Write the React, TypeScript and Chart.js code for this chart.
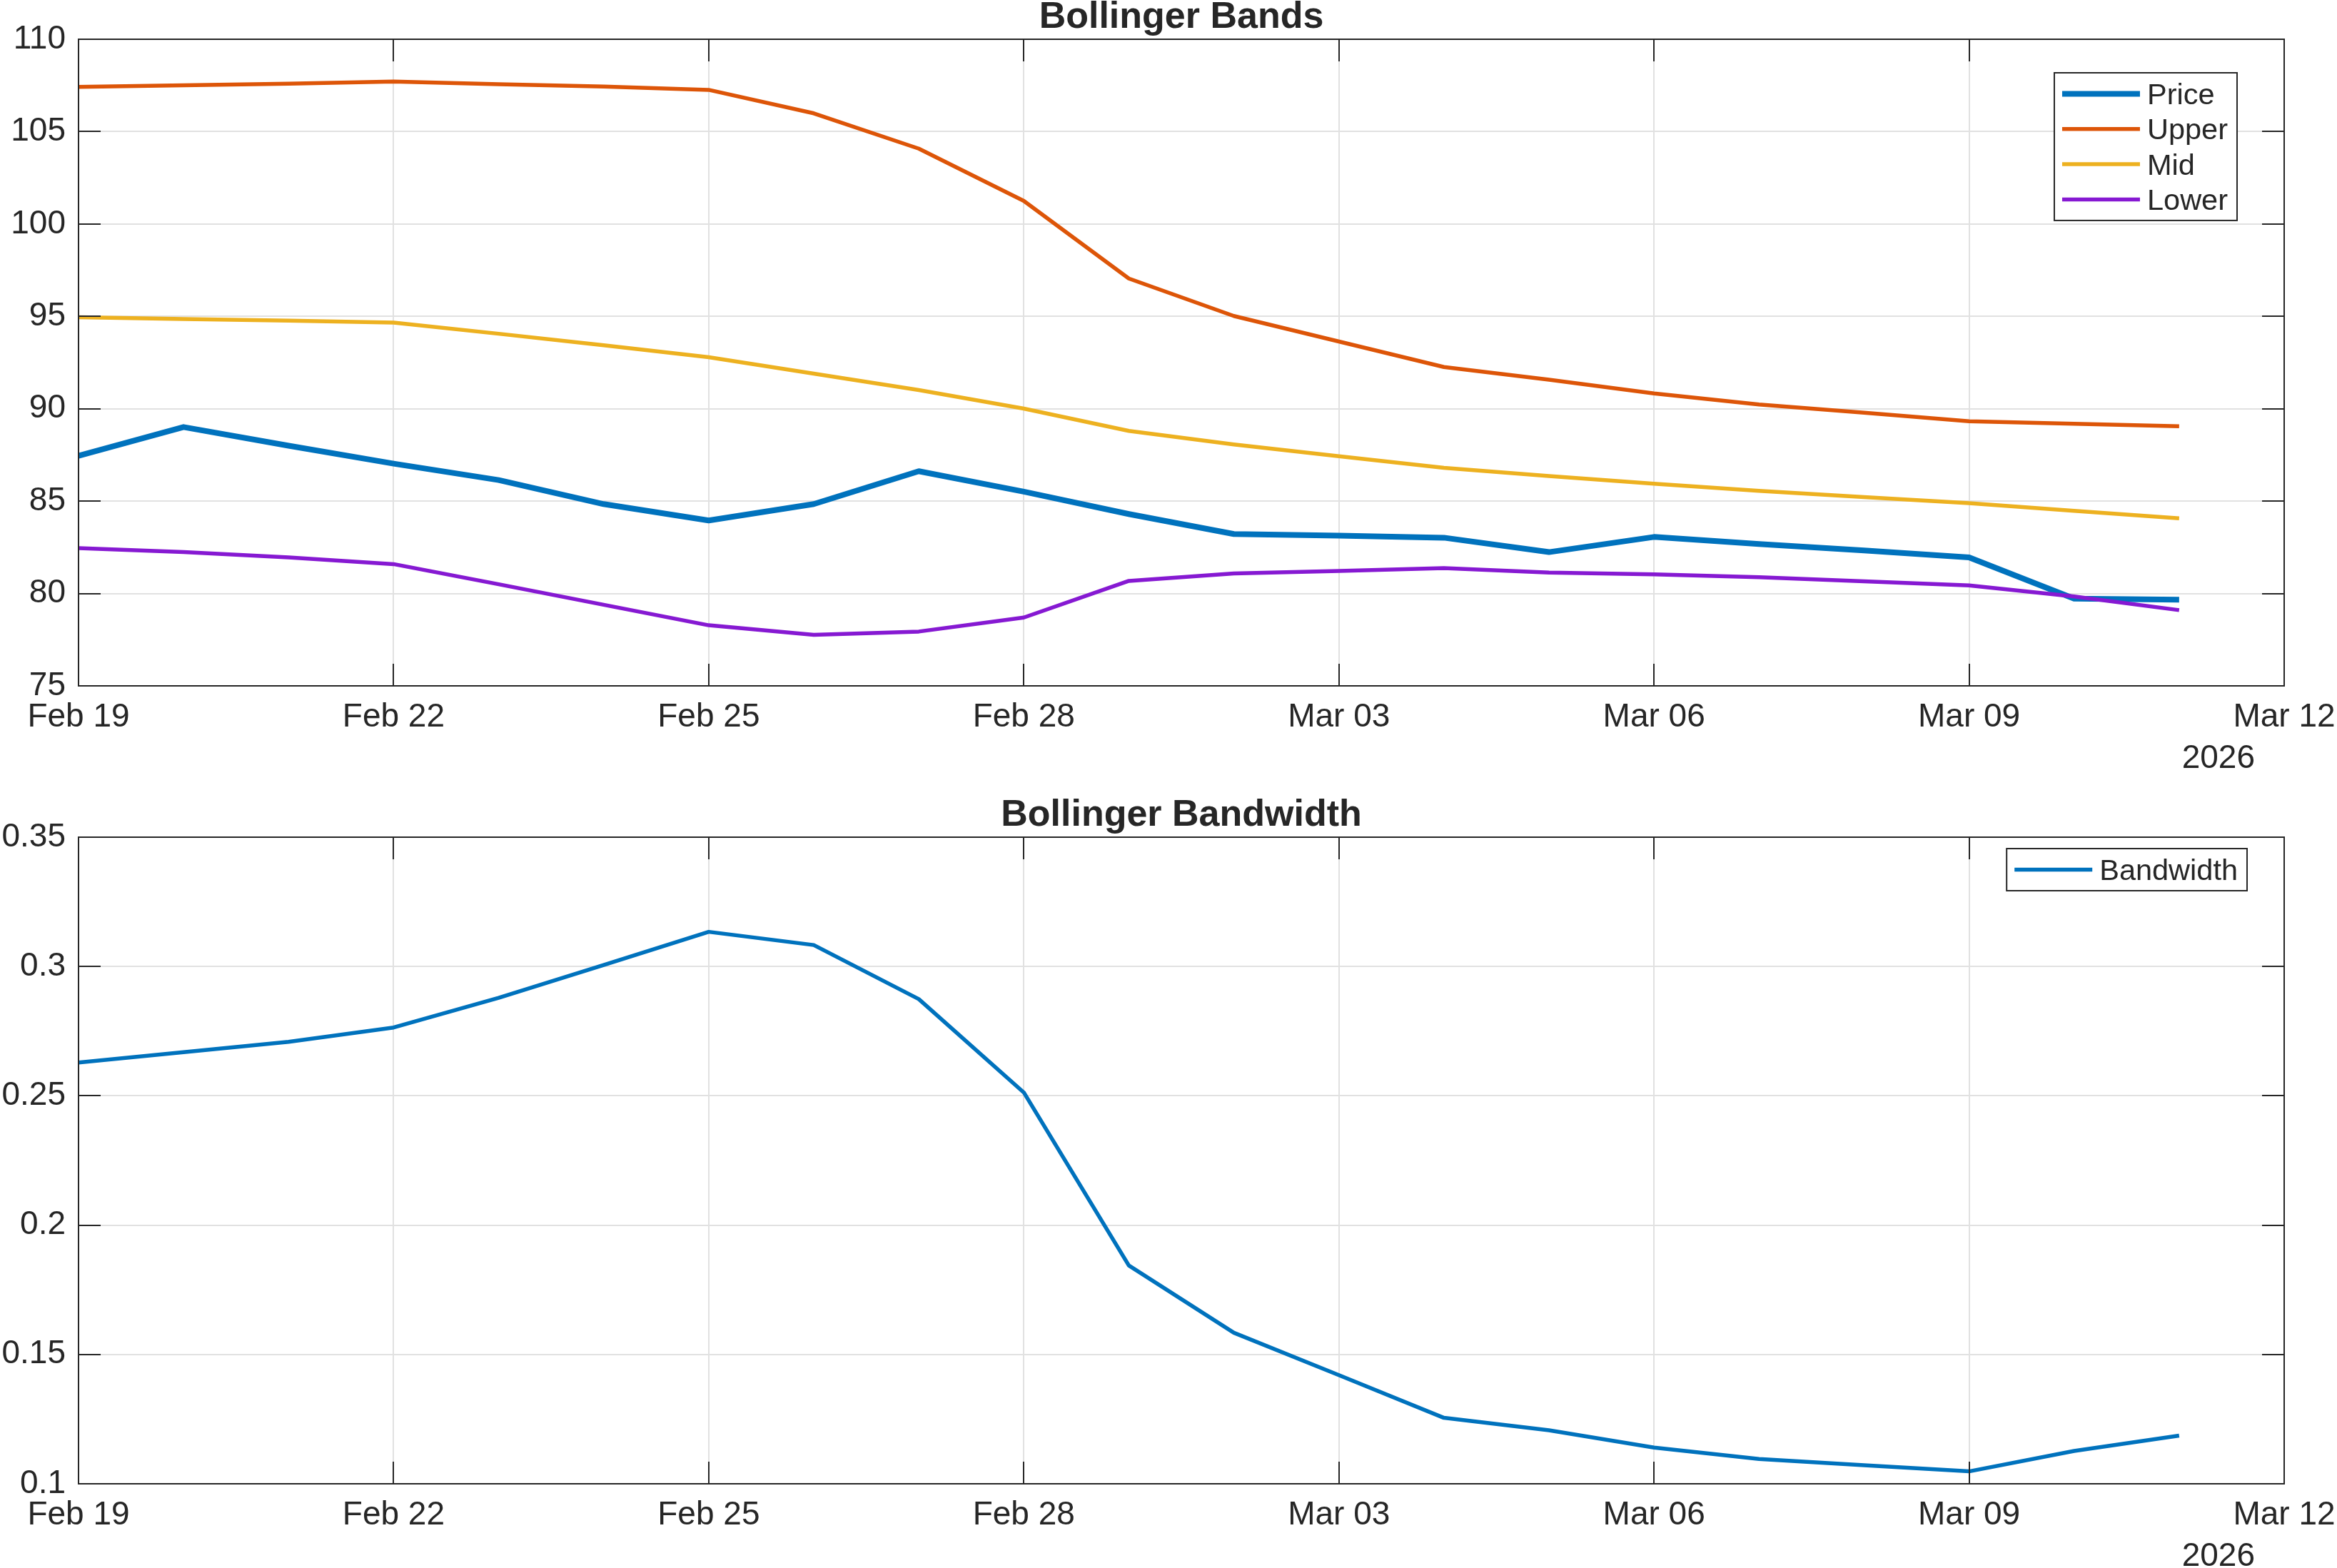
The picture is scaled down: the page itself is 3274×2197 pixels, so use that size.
import { useEffect, useRef } from 'react';
import { Chart, registerables } from 'chart.js';

Chart.register(...registerables);

// ---- data (one value per calendar day) ----
const dates = [
  '2026-02-19', '2026-02-20', '2026-02-21', '2026-02-22', '2026-02-23', '2026-02-24', '2026-02-25',
  '2026-02-26', '2026-02-27', '2026-02-28', '2026-03-01', '2026-03-02', '2026-03-03', '2026-03-04',
  '2026-03-05', '2026-03-06', '2026-03-07', '2026-03-08', '2026-03-09', '2026-03-10', '2026-03-11',
];
const price = [87.45, 89.01, 88.0, 87.03, 86.14, 84.84, 83.95, 84.84, 86.62, 85.51, 84.3,
  83.22, 83.13, 83.02, 82.24, 83.06, 82.68, 82.33, 81.95, 79.72, 79.66];
const upper = [107.42, 107.51, 107.6, 107.71, 107.57, 107.44, 107.26, 105.99, 104.08, 101.25, 97.05,
  95.02, 93.64, 92.26, 91.57, 90.83, 90.23, 89.79, 89.32, 89.19, 89.05];
const mid = [94.95, 94.86, 94.77, 94.66, 94.06, 93.44, 92.79, 91.9, 91.01, 90.01, 88.8,
  88.07, 87.43, 86.8, 86.36, 85.94, 85.56, 85.22, 84.89, 84.47, 84.07];
const lower = [82.46, 82.24, 81.95, 81.59, 80.5, 79.39, 78.28, 77.76, 77.94, 78.7, 80.68,
  81.08, 81.22, 81.37, 81.13, 81.04, 80.88, 80.66, 80.44, 79.84, 79.1];
const bandwidth = [0.2629, 0.2669, 0.2709, 0.2764, 0.2879, 0.3006, 0.3134, 0.3083, 0.2874, 0.2513, 0.1844,
  0.1584, 0.142, 0.1255, 0.1207, 0.114, 0.1096, 0.1072, 0.1048, 0.1127, 0.1186];

// ---- axis labels ----
const xTickLabels = ['Feb 19', 'Feb 22', 'Feb 25', 'Feb 28', 'Mar 03', 'Mar 06', 'Mar 09', 'Mar 12'];
const xTickStepDays = 3;
const yearLabel = '2026';
const bandsRange = [75, 110, 5];
const bandwidthRange = [0.1, 0.35, 0.05];

// ---- styling ----
const W = 3274;
const FONT = '"Liberation Sans", Arial, Helvetica, sans-serif';
const TEXT = '#262626';
const GRID = '#e1e1e1';
const TICK_SIZE = 46;
const TITLE_SIZE = 52;
const LEGEND_SIZE = 41.5;
const TICK_LEN = 31;
const AREA_LEFT = 110;
const AREA_RIGHT = 3200;
const THICK = 8;
const THIN = 5.5;

const COLORS = {
  price: '#0072BD',
  upper: '#DD5508',
  mid: '#EDB120',
  lower: '#8619D2',
  bandwidth: '#0072BD',
};

const dayIndex = (d: string) => (Date.parse(d) - Date.parse(dates[0])) / 86400000;
const xy = (vals: number[]) => vals.map((v, i) => ({ x: dayIndex(dates[i]), y: v }));
const lastDay = dayIndex(dates[0]) + (xTickLabels.length - 1) * xTickStepDays;

type LegendItem = { label: string; color: string; width: number };
type FrameOpts = {
  title: string;
  year: string;
  legend: { items: LegendItem[]; right: number; top: number };
};

// Boxed axes with inward tick marks, title, year label and an in-plot legend
const framePlugin = {
  id: 'frame',
  afterDraw(chart: any, _args: any, opts: FrameOpts) {
    const { ctx, chartArea: a, scales } = chart;
    ctx.save();
    ctx.strokeStyle = TEXT;
    ctx.lineWidth = 2;
    ctx.beginPath();
    for (const t of scales.x.ticks) {
      const px = Math.round(scales.x.getPixelForValue(t.value));
      ctx.moveTo(px, a.bottom);
      ctx.lineTo(px, a.bottom - TICK_LEN);
      ctx.moveTo(px, a.top);
      ctx.lineTo(px, a.top + TICK_LEN);
    }
    for (const t of scales.y.ticks) {
      const py = Math.round(scales.y.getPixelForValue(t.value));
      ctx.moveTo(a.left, py);
      ctx.lineTo(a.left + TICK_LEN, py);
      ctx.moveTo(a.right, py);
      ctx.lineTo(a.right - TICK_LEN, py);
    }
    ctx.stroke();
    ctx.strokeRect(a.left, a.top, a.right - a.left, a.bottom - a.top);

    ctx.fillStyle = TEXT;
    ctx.textBaseline = 'alphabetic';
    ctx.font = `bold ${TITLE_SIZE}px ${FONT}`;
    ctx.textAlign = 'center';
    ctx.fillText(opts.title, (a.left + a.right) / 2, a.top - 16);

    ctx.font = `${TICK_SIZE}px ${FONT}`;
    ctx.textAlign = 'right';
    ctx.fillText(opts.year, a.right - 41, a.bottom + 115);

    // legend
    const lg = opts.legend;
    ctx.font = `${LEGEND_SIZE}px ${FONT}`;
    const textW = Math.max(...lg.items.map((it) => ctx.measureText(it.label).width));
    const lineLen = 109;
    const padL = 11;
    const gap = 10;
    const padR = 13;
    const rowH = 49.3;
    const rowOff = 29.5;
    const boxW = padL + lineLen + gap + textW + padR;
    const boxH = rowOff * 2 + (lg.items.length - 1) * rowH;
    const bx = a.right - lg.right - boxW;
    const by = a.top + lg.top;
    ctx.fillStyle = '#ffffff';
    ctx.fillRect(bx, by, boxW, boxH);
    ctx.lineWidth = 2;
    ctx.strokeStyle = TEXT;
    ctx.strokeRect(bx, by, boxW, boxH);
    lg.items.forEach((it, i) => {
      const cy = by + rowOff + i * rowH;
      ctx.beginPath();
      ctx.strokeStyle = it.color;
      ctx.lineWidth = it.width;
      ctx.moveTo(bx + padL, cy);
      ctx.lineTo(bx + padL + lineLen, cy);
      ctx.stroke();
      ctx.fillStyle = TEXT;
      ctx.textAlign = 'left';
      ctx.fillText(it.label, bx + padL + lineLen + gap, cy + 14.5);
    });
    ctx.restore();
  },
};

type PanelSpec = {
  height: number;
  areaTop: number;
  areaBottom: number;
  range: number[];
  yFormat: (v: number) => string;
  datasets: any[];
  frame: FrameOpts;
};

function buildConfig(spec: PanelSpec): any {
  const [yMin, yMax, yStep] = spec.range;
  return {
    type: 'line',
    data: { datasets: spec.datasets },
    plugins: [framePlugin],
    options: {
      responsive: false,
      animation: false,
      devicePixelRatio: 1,
      events: [],
      layout: { padding: { top: spec.areaTop, right: W - AREA_RIGHT, bottom: 0, left: 0 } },
      plugins: {
        legend: { display: false },
        title: { display: false },
        tooltip: { enabled: false },
        frame: spec.frame,
      },
      elements: { point: { radius: 0 }, line: { tension: 0, borderJoinStyle: 'round', borderCapStyle: 'butt' } },
      scales: {
        x: {
          type: 'linear',
          min: 0,
          max: lastDay,
          grid: { color: GRID, lineWidth: 2, drawTicks: false },
          border: { display: false },
          ticks: {
            stepSize: xTickStepDays,
            autoSkip: false,
            maxRotation: 0,
            padding: 17,
            color: TEXT,
            font: { family: FONT, size: TICK_SIZE },
            callback: (v: number) => xTickLabels[Math.round(v / xTickStepDays)] ?? '',
          },
          afterFit: (s: any) => {
            s.height = spec.height - spec.areaBottom;
            s.paddingLeft = 0;
            s.paddingRight = 0;
          },
        },
        y: {
          type: 'linear',
          min: yMin,
          max: yMax,
          grid: { color: GRID, lineWidth: 2, drawTicks: false },
          border: { display: false },
          ticks: {
            stepSize: yStep,
            padding: 18,
            color: TEXT,
            font: { family: FONT, size: TICK_SIZE },
            callback: (v: number) => spec.yFormat(v),
          },
          afterFit: (s: any) => {
            s.width = AREA_LEFT;
            s.paddingTop = 0;
            s.paddingBottom = 0;
          },
        },
      },
    },
  };
}

const bandsSpec: PanelSpec = {
  height: 1100,
  areaTop: 55,
  areaBottom: 961,
  range: bandsRange,
  yFormat: (v) => String(Math.round(v)),
  datasets: [
    { label: 'Price', data: xy(price), borderColor: COLORS.price, borderWidth: THICK, order: 4 },
    { label: 'Upper', data: xy(upper), borderColor: COLORS.upper, borderWidth: THIN, order: 3 },
    { label: 'Mid', data: xy(mid), borderColor: COLORS.mid, borderWidth: THIN, order: 2 },
    { label: 'Lower', data: xy(lower), borderColor: COLORS.lower, borderWidth: THIN, order: 1 },
  ],
  frame: {
    title: 'Bollinger Bands',
    year: yearLabel,
    legend: {
      right: 66,
      top: 47,
      items: [
        { label: 'Price', color: COLORS.price, width: THICK },
        { label: 'Upper', color: COLORS.upper, width: THIN },
        { label: 'Mid', color: COLORS.mid, width: THIN },
        { label: 'Lower', color: COLORS.lower, width: THIN },
      ],
    },
  },
};

const bandwidthSpec: PanelSpec = {
  height: 1097,
  areaTop: 73,
  areaBottom: 979,
  range: bandwidthRange,
  yFormat: (v) => String(+Number(v).toFixed(2)),
  datasets: [
    { label: 'Bandwidth', data: xy(bandwidth), borderColor: COLORS.bandwidth, borderWidth: THIN },
  ],
  frame: {
    title: 'Bollinger Bandwidth',
    year: yearLabel,
    legend: {
      right: 52,
      top: 16,
      items: [{ label: 'Bandwidth', color: COLORS.bandwidth, width: THIN }],
    },
  },
};

function Panel({ top, spec }: { top: number; spec: PanelSpec }) {
  const ref = useRef<HTMLCanvasElement>(null);
  useEffect(() => {
    const chart = new Chart(ref.current as HTMLCanvasElement, buildConfig(spec));
    return () => chart.destroy();
  }, [spec]);
  return (
    <canvas
      ref={ref}
      width={W}
      height={spec.height}
      style={{ position: 'absolute', left: 0, top, width: W, height: spec.height, display: 'block' }}
    />
  );
}

export default function App() {
  return (
    <div style={{ position: 'fixed', left: 0, top: 0, width: W, height: 2197, background: '#ffffff', overflow: 'hidden' }}>
      <Panel top={0} spec={bandsSpec} />
      <Panel top={1100} spec={bandwidthSpec} />
    </div>
  );
}
